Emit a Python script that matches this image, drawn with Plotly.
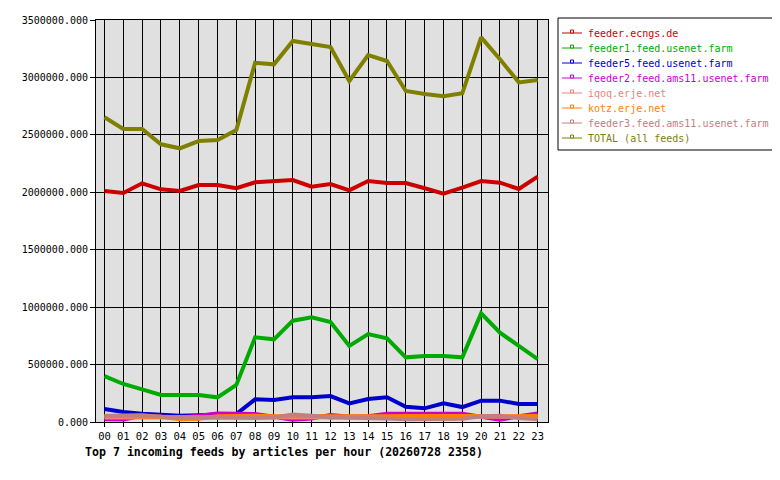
import plotly.graph_objects as go

# --------------------------------------------------------------------------- #
#  Data (articles per hour)
# --------------------------------------------------------------------------- #

hours = [f"{h:02d}" for h in range(24)]

feeder_ecngs = [2011000, 1994000, 2078000, 2026000, 2011000, 2063000, 2063000, 2035000,
                2087000, 2098000, 2107000, 2049000, 2072000, 2017000, 2098000, 2081000,
                2081000, 2035000, 1988000, 2040000, 2098000, 2084000, 2029000, 2136000]
feeder1_usenet = [400000, 331000, 284000, 235000, 235000, 235000, 215000, 322000,
                  737000, 720000, 882000, 911000, 871000, 662000, 766000, 729000,
                  563000, 575000, 575000, 563000, 946000, 778000, 662000, 548000]
feeder5_usenet = [113000, 87000, 72000, 61000, 55000, 58000, 60000, 70000,
                  197000, 191000, 215000, 215000, 226000, 162000, 200000, 215000,
                  133000, 119000, 162000, 130000, 186000, 186000, 157000, 157000]
feeder2_ams11 = [25000, 22000, 55000, 45000, 40000, 55000, 75000, 72000,
                 70000, 45000, 20000, 30000, 60000, 45000, 50000, 72000,
                 72000, 72000, 72000, 72000, 45000, 20000, 50000, 75000]
iqoq_erje = [40000, 42000, 45000, 40000, 38000, 40000, 42000, 45000,
             45000, 42000, 40000, 42000, 45000, 42000, 40000, 45000,
             45000, 45000, 45000, 45000, 42000, 40000, 42000, 45000]
kotz_erje = [52000, 50000, 55000, 45000, 25000, 28000, 50000, 55000,
             55000, 50000, 55000, 52000, 50000, 48000, 48000, 50000,
             52000, 52000, 55000, 60000, 52000, 50000, 50000, 52000]
feeder3_ams11 = [55000, 58000, 58000, 45000, 42000, 40000, 40000, 35000,
                 35000, 40000, 65000, 55000, 40000, 38000, 38000, 30000,
                 25000, 25000, 25000, 28000, 50000, 55000, 35000, 25000]
total_all = [2653000, 2551000, 2551000, 2418000, 2383000, 2446000, 2455000, 2542000,
             3128000, 3114000, 3317000, 3291000, 3265000, 2969000, 3195000, 3143000,
             2882000, 2856000, 2836000, 2862000, 3349000, 3158000, 2957000, 2978000]

feed_names = ["feeder.ecngs.de", "feeder1.feed.usenet.farm", "feeder5.feed.usenet.farm",
              "feeder2.feed.ams11.usenet.farm", "iqoq.erje.net", "kotz.erje.net",
              "feeder3.feed.ams11.usenet.farm", "TOTAL (all feeds)"]
feed_values = [feeder_ecngs, feeder1_usenet, feeder5_usenet, feeder2_ams11,
               iqoq_erje, kotz_erje, feeder3_ams11, total_all]
feed_colors = ["#cc0000", "#00aa00", "#0000cc", "#cc00cc",
               "#f08080", "#ff8000", "#c08080", "#808000"]

MONO = "DejaVu Sans Mono"

# plot area in pixels (page has an 8px body margin)
PLOT_W, PLOT_H = 452, 402


def px_x(dx):
    """pixel offset from the plot's left edge -> paper x"""
    return dx / PLOT_W


def px_y(dy):
    """pixel offset above the plot's bottom edge -> paper y"""
    return dy / PLOT_H


fig = go.Figure()

for name, values, color in zip(feed_names, feed_values, feed_colors):
    fig.add_trace(go.Scatter(
        x=hours, y=values, mode="lines", name=name,
        showlegend=False, line=dict(color=color, width=4),
    ))

# --------------------------------------------------------------------------- #
#  Hand-made legend: plotly's own legend rows are too tall for this layout
# --------------------------------------------------------------------------- #

shapes = [dict(
    type="rect", xref="paper", yref="paper", layer="above",
    x0=px_x(462), x1=px_x(679), y0=px_y(272), y1=px_y(404),
    line=dict(color="black", width=1), fillcolor="white",
)]
annotations = []

for i, (name, color) in enumerate(zip(feed_names, feed_colors)):
    row = px_y(389 - 15 * i)
    shapes.append(dict(
        type="line", xref="paper", yref="paper", layer="above",
        x0=px_x(466), x1=px_x(486), y0=row, y1=row,
        line=dict(color=color, width=1),
    ))
    shapes.append(dict(
        type="rect", xref="paper", yref="paper", layer="above",
        x0=px_x(474.5), x1=px_x(477.5), y0=row, y1=row + px_y(3),
        line=dict(color=color, width=1), fillcolor="white",
    ))
    annotations.append(dict(
        text=name, xref="paper", yref="paper", x=px_x(490), y=row,
        xanchor="left", yanchor="middle", showarrow=False,
        font=dict(family=MONO, size=10, color=color),
    ))

annotations.append(dict(
    text="<b>Top 7 incoming feeds by articles per hour (20260728 2358)</b>",
    xref="paper", yref="paper", x=px_x(-13), y=px_y(-30),
    xanchor="left", yanchor="middle", showarrow=False,
    font=dict(family=MONO, size=11.6, color="black"),
))

fig.update_layout(
    width=780, height=480,
    margin=dict(l=88, r=240, t=12, b=66, autoexpand=False),
    paper_bgcolor="white",
    plot_bgcolor="#e0e0e0",
    font=dict(family=MONO, size=10, color="black"),
    showlegend=False,
    xaxis=dict(
        type="category", range=[-0.45, 23.55], automargin=False,
        showgrid=True, gridcolor="black", gridwidth=1,
        showline=True, linecolor="black", linewidth=1, mirror=True,
        ticks="outside", ticklen=4, tickcolor="black",
        tickfont=dict(family=MONO, size=10.5),
    ),
    yaxis=dict(
        range=[0, 3500000], dtick=500000, tickformat=".3f", automargin=False,
        showgrid=True, gridcolor="black", gridwidth=1, zeroline=False,
        showline=True, linecolor="black", linewidth=1, mirror=True,
        ticks="outside", ticklen=5, tickcolor="black",
        tickfont=dict(family=MONO, size=10),
    ),
    shapes=shapes,
    annotations=annotations,
)

fig.write_html("out.html")
